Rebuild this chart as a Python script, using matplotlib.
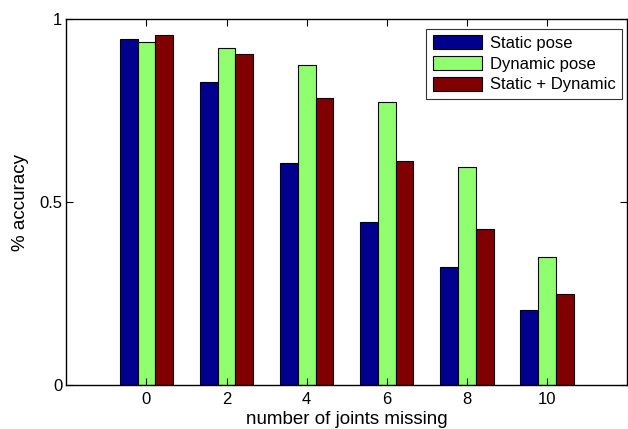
import numpy as np
import matplotlib
matplotlib.use('Agg')
import matplotlib.pyplot as plt

plt.rcParams['font.family'] = ['Liberation Sans', 'DejaVu Sans']

# joints missing and accuracy per method
jointsMissing = [0, 2, 4, 6, 8, 10]
staticPose    = [0.945, 0.827, 0.608, 0.446, 0.323, 0.206]
dynamicPose   = [0.938, 0.920, 0.874, 0.773, 0.596, 0.351]
staticDynamic = [0.956, 0.904, 0.783, 0.612, 0.427, 0.248]

seriesLabels = ['Static pose', 'Dynamic pose', 'Static + Dynamic']
seriesColors = ['#00008F', '#8FFF70', '#800000']

fig = plt.figure(figsize=(6.28, 4.29), dpi=100)
ax = fig.add_axes([0.1056, 0.1019, 0.8928, 0.8538])

x = np.array(jointsMissing, dtype=float)
barWidth = 2 * (2 / 3) / 3
for i, (vals, lab, col) in enumerate(zip([staticPose, dynamicPose, staticDynamic], seriesLabels, seriesColors)):
    ax.bar(x + (i - 1) * barWidth, vals, width=barWidth, color=col,
           edgecolor='black', linewidth=0.8, label=lab)

ax.set_xlim(-2, 12)
ax.set_ylim(0, 1)
ax.set_xticks(jointsMissing)
ax.set_yticks([0, 0.5, 1])
ax.set_yticklabels(['0', '0.5', '1'])
ax.tick_params(direction='in', top=True, right=True, length=5, width=0.8, labelsize=12)
ax.tick_params(axis='x', pad=5)
ax.tick_params(axis='y', pad=3)
for s in ax.spines.values():
    s.set_linewidth(1.0)

ax.set_xlabel('number of joints missing', fontsize=13.5, labelpad=3)
ax.set_ylabel('% accuracy', fontsize=13.5, labelpad=7)

leg = ax.legend(loc='upper right', bbox_to_anchor=(0.991, 0.9735), borderaxespad=0,
                fancybox=False, edgecolor='black', fontsize=12, handlelength=2.95,
                handleheight=0.9, handletextpad=0.45, labelspacing=0.3, borderpad=0.4)
leg.get_frame().set_linewidth(0.8)

plt.savefig('out.png', dpi=100)
